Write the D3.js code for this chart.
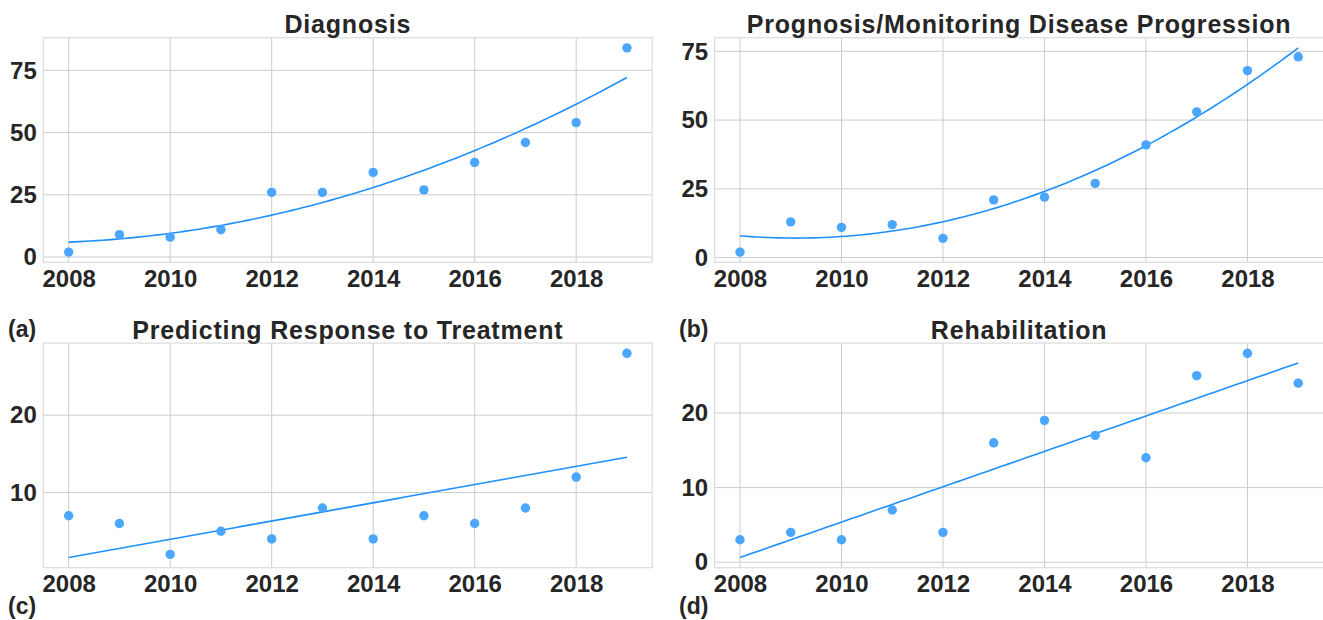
<!DOCTYPE html>
<html>
<head>
<meta charset="utf-8">
<script src="https://cdn.jsdelivr.net/npm/d3@7"></script>
<style>
  html, body { margin: 0; padding: 0; background: #fff; }
  svg { display: block; }
  text { font-family: "Liberation Sans", Arial, sans-serif; font-weight: bold; fill: #262626; }
</style>
</head>
<body>
<svg id="chart" width="1323" height="620"></svg>
<script>
// values
const years = [2008, 2009, 2010, 2011, 2012, 2013, 2014, 2015, 2016, 2017, 2018, 2019];
const diagnosis = [2, 9, 8, 11, 26, 26, 34, 27, 38, 46, 54, 84];
const prognosis = [2, 13, 11, 12, 7, 21, 22, 27, 41, 53, 68, 73];
const response = [7, 6, 2, 5, 4, 8, 4, 7, 6, 8, 12, 28];
const rehabilitation = [3, 4, 3, 7, 4, 16, 19, 17, 14, 25, 28, 24];

const titles = ["Diagnosis", "Prognosis/Monitoring Disease Progression",
                "Predicting Response to Treatment", "Rehabilitation"];
const panelLabels = ["(a)", "(b)", "(c)", "(d)"];
const xTicks = [2008, 2010, 2012, 2014, 2016, 2018];
const yTicks = [[0, 25, 50, 75], [0, 25, 50, 75], [10, 20], [0, 10, 20]];
const fitDegree = [2, 2, 1, 1];

const series = [diagnosis, prognosis, response, rehabilitation];

// layout
const panelW = 609, panelH = 224.6;
const lefts = [43.3, 714.6, 43.3, 714.6];
const tops = [37.7, 37.7, 343.1, 343.1];
const labelPos = [[8, 337], [679, 337], [8, 613.5], [679, 613.5]];
const dotColor = "#4ba6ff", lineColor = "#1e90ff";

// least squares polynomial fit (centered x), returns function
function polyfit(xs, ys, deg) {
  const xm = d3.mean(xs);
  const n = deg + 1;
  const A = d3.range(n).map(() => new Array(n + 1).fill(0));
  xs.forEach((x, k) => {
    const t = x - xm;
    for (let i = 0; i < n; i++) {
      for (let j = 0; j < n; j++) A[i][j] += Math.pow(t, i + j);
      A[i][n] += Math.pow(t, i) * ys[k];
    }
  });
  // gaussian elimination
  for (let i = 0; i < n; i++) {
    let p = i;
    for (let r = i + 1; r < n; r++) if (Math.abs(A[r][i]) > Math.abs(A[p][i])) p = r;
    [A[i], A[p]] = [A[p], A[i]];
    for (let r = 0; r < n; r++) {
      if (r === i) continue;
      const f = A[r][i] / A[i][i];
      for (let c = i; c <= n; c++) A[r][c] -= f * A[i][c];
    }
  }
  const coef = A.map((row, i) => row[n] / row[i]);
  return x => coef.reduce((s, c, i) => s + c * Math.pow(x - xm, i), 0);
}

const svg = d3.select("#chart");

series.forEach((vals, i) => {
  const g = svg.append("g").attr("transform", `translate(${lefts[i]},${tops[i]})`);
  const fit = polyfit(years, vals, fitDegree[i]);
  const curve = d3.range(0, 101).map(k => {
    const x = years[0] + (years[years.length - 1] - years[0]) * k / 100;
    return [x, fit(x)];
  });

  const x = d3.scaleLinear().domain([2007.5, 2019.5]).range([0, panelW]);
  const lo = Math.min(d3.min(vals), d3.min(curve, d => d[1]));
  const hi = Math.max(d3.max(vals), d3.max(curve, d => d[1]));
  const pad = (hi - lo) * 0.05;
  const y = d3.scaleLinear().domain([lo - pad, hi + pad]).range([panelH, 0]);

  // grid
  g.append("g").selectAll("line").data(xTicks).join("line")
    .attr("x1", d => x(d)).attr("x2", d => x(d))
    .attr("y1", 0).attr("y2", panelH)
    .attr("stroke", "#cccccc").attr("stroke-width", 1);
  g.append("g").selectAll("line").data(yTicks[i]).join("line")
    .attr("x1", 0).attr("x2", panelW)
    .attr("y1", d => y(d)).attr("y2", d => y(d))
    .attr("stroke", "#cccccc").attr("stroke-width", 1);

  // spines
  g.append("rect").attr("width", panelW).attr("height", panelH)
    .attr("fill", "none").attr("stroke", "#dddddd").attr("stroke-width", 1.25);

  // axes
  const xa = g.append("g").attr("transform", `translate(0,${panelH})`)
    .call(d3.axisBottom(x).tickValues(xTicks).tickFormat(d3.format("d")).tickSize(0).tickPadding(7.5));
  const ya = g.append("g")
    .call(d3.axisLeft(y).tickValues(yTicks[i]).tickSize(0).tickPadding(6.5));
  [xa, ya].forEach(a => {
    a.select(".domain").remove();
    a.attr("font-family", null).attr("font-size", null);
    a.selectAll("text").style("font-size", "24px").attr("fill", "#262626");
  });

  // fitted trend
  g.append("path").datum(curve)
    .attr("fill", "none").attr("stroke", lineColor).attr("stroke-width", 1.6)
    .attr("d", d3.line().x(d => x(d[0])).y(d => y(d[1])));

  // points
  g.append("g").selectAll("circle").data(years).join("circle")
    .attr("cx", d => x(d)).attr("cy", (d, k) => y(vals[k]))
    .attr("r", 4.7).attr("fill", dotColor);

  // title
  g.append("text").attr("x", panelW / 2).attr("y", -4.5)
    .attr("text-anchor", "middle").style("font-size", "25px")
    .style("letter-spacing", "0.8px").text(titles[i]);

  svg.append("text").attr("x", labelPos[i][0]).attr("y", labelPos[i][1])
    .style("font-size", "23px").text(panelLabels[i]);
});
</script>
</body>
</html>
